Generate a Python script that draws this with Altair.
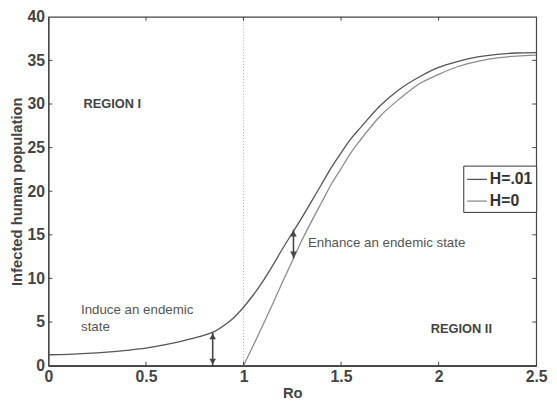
import altair as alt
import pandas as pd

# ---- data ----
ro_h01 = [0.0, 0.1, 0.2, 0.3, 0.4, 0.5, 0.6, 0.7, 0.8, 0.85, 0.9, 0.95, 1.0,
          1.05, 1.1, 1.15, 1.2, 1.25, 1.3, 1.35, 1.4, 1.45, 1.5, 1.55, 1.6,
          1.7, 1.8, 1.9, 2.0, 2.1, 2.2, 2.3, 2.4, 2.5]
inf_h01 = [1.25, 1.3, 1.4, 1.55, 1.75, 2.0, 2.4, 2.9, 3.5, 3.9, 4.6, 5.5, 6.7,
           8.1, 9.7, 11.5, 13.4, 15.2, 17.0, 18.9, 20.8, 22.7, 24.4, 26.0, 27.3,
           29.8, 31.7, 33.1, 34.2, 34.9, 35.4, 35.7, 35.85, 35.9]

ro_h0 = [1.0, 1.05, 1.1, 1.15, 1.2, 1.25, 1.3, 1.35, 1.4, 1.45, 1.5, 1.55, 1.6,
         1.7, 1.8, 1.9, 2.0, 2.1, 2.2, 2.3, 2.4, 2.5]
inf_h0 = [0.0, 2.3, 4.7, 7.1, 9.6, 12.0, 14.4, 16.6, 18.7, 20.8, 22.6, 24.4, 25.9,
          28.6, 30.6, 32.3, 33.4, 34.3, 34.9, 35.3, 35.5, 35.6]

series_names = ["H=.01", "H=0"]
series_colors = ["#555555", "#8c8c8c"]

x_tick_labels = [0, 0.5, 1, 1.5, 2, 2.5]
y_tick_labels = [0, 5, 10, 15, 20, 25, 30, 35, 40]
x_inner_ticks = [0.5, 1, 1.5, 2]
y_inner_ticks = [5, 10, 15, 20, 25, 30, 35]

threshold_ro = [1.0]

arrow_ro = [0.842, 1.256]
arrow_lo = [0.0, 12.3]
arrow_hi = [3.8, 15.6]

region_x = [0.18, 1.96]
region_y = [30.0, 4.2]
region_text = ["REGION I", "REGION II"]

note_x = [0.167, 1.33]
note_y = [6.4, 14.05]
note_text = [["Induce an endemic", "state"], ["Enhance an endemic state"]]

W, H = 495, 354
FONT = "Liberation Sans"
AX = "#444444"

df = pd.concat([
    pd.DataFrame({"Ro": ro_h01, "I": inf_h01, "series": series_names[0], "o": range(len(ro_h01))}),
    pd.DataFrame({"Ro": ro_h0, "I": inf_h0, "series": series_names[1], "o": range(len(ro_h0))}),
])

xs = alt.Scale(domain=[0, 2.5], nice=False, zero=False)
ys = alt.Scale(domain=[0, 40], nice=False, zero=False)

ax_x = alt.Axis(
    values=x_tick_labels, format="~g", title="Ro", ticks=False, grid=False,
    domainColor=AX, domainWidth=2, labelFont=FONT, labelFontSize=16,
    labelFontWeight="bold", labelColor=AX, labelPadding=3, labelFlush=False,
    titleFont=FONT, titleFontSize=15, titleFontWeight="bold", titleColor=AX,
    titlePadding=1)
ax_y = alt.Axis(
    values=y_tick_labels, title="Infected human population", ticks=False, grid=False,
    domainColor=AX, domainWidth=1.2, labelFont=FONT, labelFontSize=16,
    labelFontWeight="bold", labelColor=AX, labelPadding=4, labelFlush=False,
    titleFont=FONT, titleFontSize=15, titleFontWeight="bold", titleColor=AX,
    titlePadding=3)


def X(f):
    return alt.X(f, scale=xs, axis=ax_x)


def Y(f):
    return alt.Y(f, scale=ys, axis=ax_y)


lines = alt.Chart(df).mark_line(strokeWidth=1.3, clip=True, interpolate="monotone").encode(
    x=X("Ro:Q"),
    y=Y("I:Q"),
    color=alt.Color("series:N", scale=alt.Scale(domain=series_names, range=series_colors),
                    legend=alt.Legend(orient="none", legendX=421, legendY=151, title=None,
                                      symbolType="stroke", symbolSize=400, symbolStrokeWidth=1.3,
                                      labelFont=FONT, labelFontSize=16, labelFontWeight="bold",
                                      labelColor="#333333", labelOffset=2, rowPadding=3,
                                      strokeColor="#333333", fillColor="white", padding=3,
                                      cornerRadius=0)),
    order="o:Q",
)

vline = alt.Chart(pd.DataFrame({"Ro": threshold_ro})).mark_rule(
    color="#aaaaaa", strokeDash=[1, 2], strokeWidth=1).encode(x=X("Ro:Q"))

arr = pd.DataFrame({"Ro": arrow_ro, "lo": arrow_lo, "hi": arrow_hi})
arrow_shaft = alt.Chart(arr).mark_rule(color="#444444", strokeWidth=1.6).encode(
    x=X("Ro:Q"), y=Y("lo:Q"), y2="hi:Q")
arrow_up = alt.Chart(arr).mark_point(shape="triangle-up", filled=True, size=45,
                                     color="#444444", opacity=1, yOffset=4).encode(
    x=X("Ro:Q"), y=Y("hi:Q"))
arrow_down = alt.Chart(arr).mark_point(shape="triangle-down", filled=True, size=45,
                                       color="#444444", opacity=1, yOffset=-4).encode(
    x=X("Ro:Q"), y=Y("lo:Q"))

regions = alt.Chart(pd.DataFrame({"x": region_x, "y": region_y, "t": region_text})).mark_text(
    font=FONT, fontSize=13, fontWeight="bold", color="#444444", align="left",
    baseline="middle").encode(x=X("x:Q"), y=Y("y:Q"), text="t:N")

notes = alt.Chart(pd.DataFrame({"x": note_x, "y": note_y, "t": note_text})).mark_text(
    font=FONT, fontSize=13.5, color="#555555", align="left", baseline="middle",
    lineHeight=17).encode(x=X("x:Q"), y=Y("y:Q"), text="t")

tk = dict(color=AX, strokeWidth=1)
xt = pd.DataFrame({"v": x_inner_ticks})
yt = pd.DataFrame({"v": y_inner_ticks})
ticks_bottom = alt.Chart(xt).mark_rule(**tk).encode(
    x=X("v:Q"), y=alt.value(H), y2=alt.value(H - 4))
ticks_top = alt.Chart(xt).mark_rule(**tk).encode(
    x=X("v:Q"), y=alt.value(0), y2=alt.value(4))
ticks_left = alt.Chart(yt).mark_rule(**tk).encode(
    y=Y("v:Q"), x=alt.value(0), x2=alt.value(4))
ticks_right = alt.Chart(yt).mark_rule(**tk).encode(
    y=Y("v:Q"), x=alt.value(W), x2=alt.value(W - 4))

chart = alt.layer(
    vline, lines, arrow_shaft, arrow_up, arrow_down, regions, notes,
    ticks_bottom, ticks_top, ticks_left, ticks_right
).properties(
    width=W, height=H,
    autosize=alt.AutoSizeParams(type="none"),
    padding={"left": 41, "top": 6, "right": 13, "bottom": 36},
    background="white",
).configure_view(stroke=AX, strokeWidth=1.2)

chart.save("out.html", embed_options={"renderer": "svg", "actions": False})
